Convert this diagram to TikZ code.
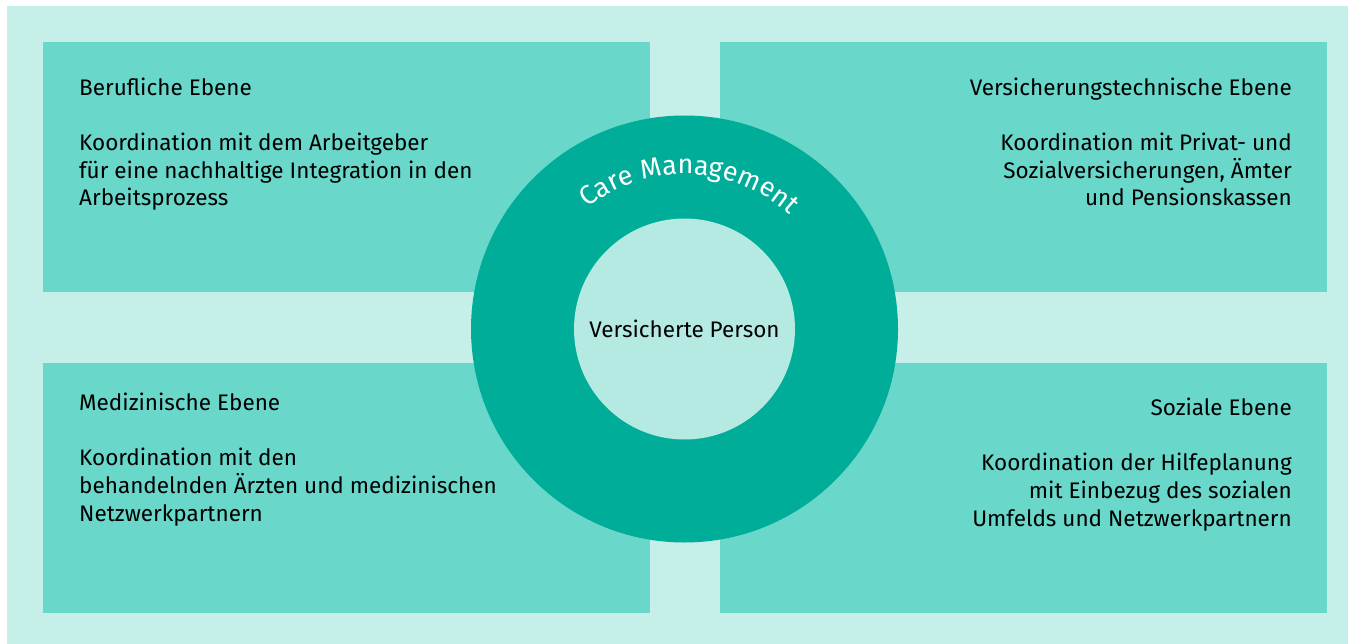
\documentclass[tikz,border=0pt]{standalone}
\usepackage{fontspec}
\setmainfont{Fira Sans}
\usetikzlibrary{decorations.text}

\definecolor{bgpale}{HTML}{C7EFEA}
\definecolor{boxteal}{HTML}{69D8CA}
\definecolor{ringteal}{HTML}{00AD99}
\definecolor{innerpale}{HTML}{B5EAE2}

\tikzset{
  ebenebox/.style={fill=boxteal, anchor=north west, inner sep=0pt,
    minimum width=607pt, minimum height=250pt},
  ebenetext/.style={inner sep=0pt, font=\fontsize{22.5}{27.7}\selectfont},
}

\begin{document}
\begin{tikzpicture}[x=1pt,y=-1pt]

  \newcommand\R{155};

  \useasboundingbox (0,0) rectangle (1348,644);
  \fill[bgpale] (7,6) rectangle (1348,644);

  \node[ebenebox] (beruf) at (43,42) {};
  \node[ebenebox] (versich) at (720,42) {};
  \node[ebenebox] (medizin) at (43,363) {};
  \node[ebenebox] (sozial) at (720,363) {};

  %% texts in the four boxes (base = last line)
  \node[ebenetext, anchor=base west, align=left] (berufT) at (79,206)
  {Berufliche Ebene\\[27.7pt]Koordination mit dem Arbeitgeber\\
    f\"ur eine nachhaltige Integration in den\\Arbeitsprozess};
  \node[ebenetext, anchor=base east, align=right] (versichT) at (1292,206)
  {Versicherungstechnische Ebene\\[27.7pt]Koordination mit Privat- und\\
    Sozialversicherungen, \"Amter\\und Pensionskassen};
  \node[ebenetext, anchor=base west, align=left] (medizinT) at (79,521)
  {Medizinische Ebene\\[27.7pt]Koordination mit den\\
    behandelnden \"Arzten und medizinischen\\Netzwerkpartnern};
  \node[ebenetext, anchor=base east, align=right] (sozialT) at (1292,526)
  {Soziale Ebene\\[27.7pt]Koordination der Hilfeplanung\\
    mit Einbezug des sozialen\\Umfelds und Netzwerkpartnern};

  %% ring in the middle
  \node[circle, fill=ringteal, inner sep=0pt, minimum size=427pt] (ring)
  at (684.5,329) {};
  \node[circle, fill=innerpale, inner sep=0pt, minimum size=221pt,
    font=\fontsize{22.5}{24}\selectfont] (person) at (ring) {Versicherte Person};

  \path[decorate, decoration={text along path, text align=center,
      text={|\fontsize{27}{27}\selectfont\color{white}|Care Management}}]
  ([shift={(227:\R)}]ring.center) arc[start angle=227, end angle=317, radius=\R];

\end{tikzpicture}
\end{document}
